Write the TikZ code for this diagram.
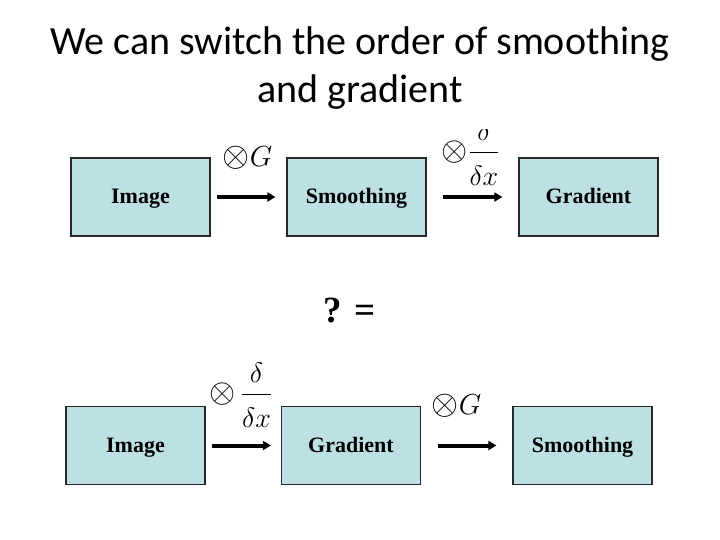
\RequirePackage{fix-cm}
\documentclass[tikz,border=0pt]{standalone}
\usepackage[no-math]{fontspec}
\usepackage{graphicx}
\setmainfont{Liberation Serif}
\newfontfamily\titlefont{Carlito}
\usetikzlibrary{arrows.meta}
\definecolor{boxfill}{RGB}{189,224,228}
\definecolor{boxline}{RGB}{40,40,40}
\tikzset{
  blk/.style={draw=boxline, line width=1.2pt, fill=boxfill, minimum width=139pt, minimum height=78pt, inner sep=0pt, text height=19pt, text depth=5pt, font=\fontsize{22}{24}\selectfont\bfseries},
  flow/.style={line width=4pt, -{Triangle[length=8pt,width=9pt]}},
  op/.style={inner sep=0pt, anchor=base west, font=\fontsize{20}{24}\selectfont},
  ttl/.style={inner sep=0pt, anchor=base, font=\titlefont\fontsize{40}{48}\selectfont}
}
\newcommand{\bigotimesA}{\mathord{\raisebox{-1pt}{\scalebox{1.2}{$\otimes$}}}}
\newcommand{\opG}{\scalebox{1.45}{$\mathord{\scalebox{1.2}{$\otimes$}}G$}}
\newcommand{\opDa}{\scalebox{1.4}{$\displaystyle\bigotimesA\frac{\delta}{\raisebox{-5pt}{$\delta x$}}$}}
\newcommand{\opDb}{\scalebox{1.4}{$\displaystyle\bigotimesA\,\frac{\delta}{\raisebox{-5pt}{$\delta x$}}$}}
\begin{document}
\begin{tikzpicture}[x=1pt,y=-1pt]
\useasboundingbox (0,0) rectangle (720,540);
\node[ttl] (title1) at (360,55) {We can switch the order of smoothing};
\node[ttl] (title2) at (360,103) {and gradient};
% top row
\node[blk] (i1) at (140.5,197) {Image};
\node[blk] (s1) at (356.5,197) {Smoothing};
\node[blk] (g1) at (588.5,197) {Gradient};
\draw[flow, shorten <=6pt, shorten >=11pt] (i1) -- (s1);
\draw[flow, shorten <=16pt, shorten >=16pt] (s1) -- (g1);
\node[op] (opG1) at (222.5,167) {\opG};
\begin{scope}
\clip (400,130) rectangle (540,220);
\node[op] (opD1) at (441.5,159) {\opDa};
\end{scope}
% middle
\node[font=\fontsize{37}{40}\selectfont\bfseries, inner sep=0pt, anchor=base west] (q) at (323,322) {? =};
% bottom row
\node[blk] (i2) at (135.5,445.5) {Image};
\node[blk] (g2) at (351,445.5) {Gradient};
\node[blk] (s2) at (582.5,445.5) {Smoothing};
\draw[flow, shorten <=6pt, shorten >=10pt] (i2) -- (g2);
\draw[flow, shorten <=17pt, shorten >=16pt] (g2) -- (s2);
\node[op] (opD2) at (209.5,401) {\opDb};
\node[op] (opG2) at (431.5,414) {\opG};
\end{tikzpicture}
\end{document}
